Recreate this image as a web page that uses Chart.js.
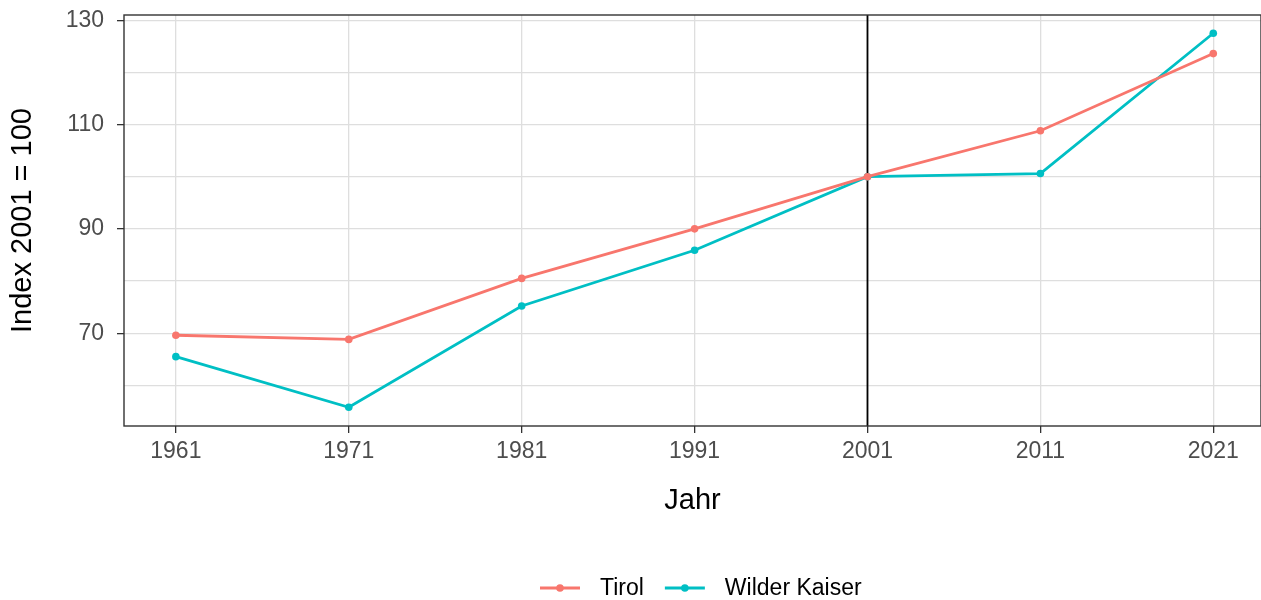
<!DOCTYPE html>
<html>
<head>
<meta charset="utf-8">
<script src="https://cdn.jsdelivr.net/npm/chart.js@4.4.1/dist/chart.umd.min.js"></script>
<style>
  html, body { margin: 0; padding: 0; background: #fff; overflow: hidden; }
  #wrap { width: 1261px; height: 600px; }
</style>
</head>
<body>
<div id="wrap"><canvas id="indexChart"></canvas></div>
<script>
    // Bevoelkerungsindex (2001 = 100)
    const years = [1961, 1971, 1981, 1991, 2001, 2011, 2021];
    const tirol = [69.6, 68.8, 80.5, 90.0, 100.0, 108.8, 123.6];
    const wilderKaiser = [65.5, 55.8, 75.2, 85.9, 100.0, 100.6, 127.5];
    const yTicks = [60, 70, 80, 90, 100, 110, 120, 130];
    const yLabels = [70, 90, 110, 130];
    const refYear = 2001;

    const fontFamily = "'Liberation Sans', Arial, sans-serif";
    Chart.defaults.font.family = fontFamily;

    // Rahmen um das Panel + senkrechte Linie bei 2001
    const panelPlugin = {
        id: 'panel',
        beforeDatasetsDraw(chart) {
            const { ctx, chartArea, scales } = chart;
            const x = scales.x.getPixelForValue(refYear);
            ctx.save();
            ctx.strokeStyle = '#000000';
            ctx.lineWidth = 1.8;
            ctx.beginPath();
            ctx.moveTo(x, chartArea.top);
            ctx.lineTo(x, chartArea.bottom);
            ctx.stroke();
            ctx.restore();
        },
        afterDatasetsDraw(chart) {
            const { ctx, chartArea } = chart;
            ctx.save();
            ctx.strokeStyle = '#333333';
            ctx.lineWidth = 1.4;
            ctx.strokeRect(chartArea.left, chartArea.top, chartArea.right - chartArea.left, chartArea.bottom - chartArea.top);
            ctx.restore();
        }
    };

    // Legende unten (Linie mit Punkt)
    const legendPlugin = {
        id: 'bottomLegend',
        afterDraw(chart) {
            const ctx = chart.ctx;
            const y = 588;
            let x = 540;
            ctx.save();
            ctx.font = '23px ' + fontFamily;
            ctx.textBaseline = 'middle';
            ctx.textAlign = 'left';
            chart.data.datasets.forEach(ds => {
                ctx.strokeStyle = ds.borderColor;
                ctx.lineWidth = 2.8;
                ctx.beginPath();
                ctx.moveTo(x, y);
                ctx.lineTo(x + 40, y);
                ctx.stroke();
                ctx.fillStyle = ds.borderColor;
                ctx.beginPath();
                ctx.arc(x + 20, y, 3.8, 0, Math.PI * 2);
                ctx.fill();
                ctx.fillStyle = '#000000';
                ctx.fillText(ds.label, x + 60, y + 1);
                x += 60 + ctx.measureText(ds.label).width + 21;
            });
            ctx.restore();
        }
    };

    const ctx1 = document.getElementById('indexChart').getContext('2d');

    new Chart(ctx1, {
        type: 'line',
        data: {
            datasets: [
                {
                    label: 'Tirol',
                    data: years.map((x, i) => ({ x: x, y: tirol[i] })),
                    borderColor: '#F8766D',
                    backgroundColor: '#F8766D',
                    borderWidth: 2.8,
                    pointRadius: 3.8,
                    pointBorderWidth: 0,
                    pointHoverRadius: 3.8,
                    tension: 0
                },
                {
                    label: 'Wilder Kaiser',
                    data: years.map((x, i) => ({ x: x, y: wilderKaiser[i] })),
                    borderColor: '#00BFC4',
                    backgroundColor: '#00BFC4',
                    borderWidth: 2.8,
                    pointRadius: 3.8,
                    pointBorderWidth: 0,
                    pointHoverRadius: 3.8,
                    tension: 0
                }
            ]
        },
        options: {
            responsive: true,
            maintainAspectRatio: false,
            animation: false,
            layout: {
                autoPadding: false,
                padding: { top: 15, right: 0, bottom: 70, left: 0 }
            },
            plugins: {
                legend: { display: false },
                tooltip: { enabled: false }
            },
            scales: {
                x: {
                    type: 'linear',
                    min: 1958,
                    max: 2023.76,
                    afterBuildTicks: scale => {
                        scale.ticks = years.map(v => ({ value: v }));
                    },
                    afterFit: scale => {
                        scale.height = 104;
                        scale.paddingLeft = 0;
                        scale.paddingRight = 0;
                    },
                    border: { display: false },
                    grid: {
                        color: '#dedede',
                        lineWidth: 1.3,
                        tickLength: 7,
                        tickColor: '#333333',
                        tickWidth: 1.3
                    },
                    ticks: {
                        color: '#4d4d4d',
                        font: { size: 23 },
                        padding: 5,
                        maxRotation: 0,
                        callback: v => String(v)
                    },
                    title: {
                        display: true,
                        text: 'Jahr',
                        color: '#000000',
                        font: { size: 29 },
                        padding: { top: 0, bottom: 12 }
                    }
                },
                y: {
                    type: 'linear',
                    min: 52.2,
                    max: 131.0,
                    afterBuildTicks: scale => {
                        scale.ticks = yTicks.map(v => ({ value: v }));
                    },
                    afterFit: scale => {
                        scale.width = 124;
                        scale.paddingTop = 0;
                        scale.paddingBottom = 0;
                    },
                    border: { display: false },
                    grid: {
                        color: '#dedede',
                        lineWidth: 1.3,
                        tickLength: 7,
                        tickColor: c => yLabels.includes(c.tick.value) ? '#333333' : 'rgba(0,0,0,0)',
                        tickWidth: 1.3
                    },
                    ticks: {
                        color: '#4d4d4d',
                        font: { size: 23 },
                        padding: 13,
                        callback: v => yLabels.includes(v) ? String(v) : ''
                    },
                    title: {
                        display: true,
                        text: 'Index 2001 = 100',
                        color: '#000000',
                        font: { size: 29 },
                        padding: { top: 6, bottom: 0 }
                    }
                }
            }
        },
        plugins: [panelPlugin, legendPlugin]
    });
</script>
</body>
</html>
